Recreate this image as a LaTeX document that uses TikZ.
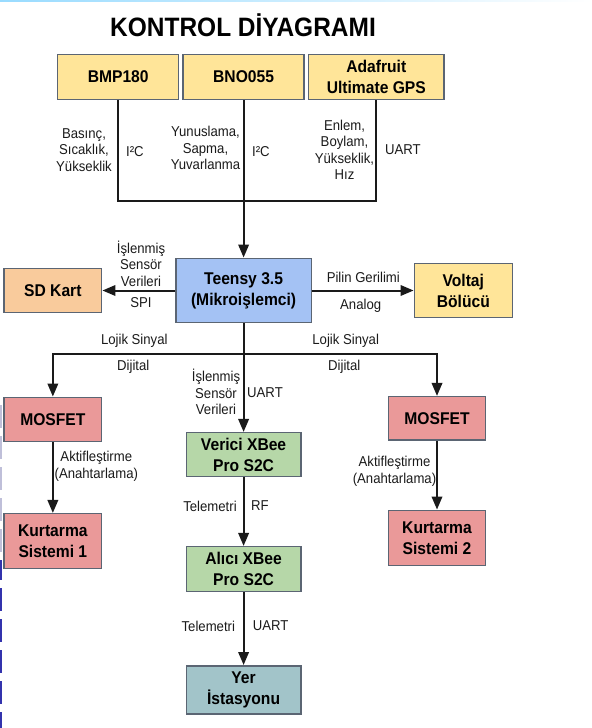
\documentclass[tikz,border=0pt]{standalone}
\usepackage{fontspec}
\setmainfont{Liberation Sans}[FakeStretch=0.92]
\usetikzlibrary{arrows.meta}
\definecolor{bord}{HTML}{5B6573}
\definecolor{cyel}{HTML}{FFE599}
\definecolor{cora}{HTML}{F9CB9C}
\definecolor{cblu}{HTML}{A4C2F4}
\definecolor{cred}{HTML}{EA9999}
\definecolor{cgrn}{HTML}{B6D7A8}
\definecolor{cteal}{HTML}{A2C4C9}
\definecolor{lnk}{HTML}{1A1A1A}
\tikzset{
  box/.style={draw=bord, line width=1.5bp, align=center, inner sep=0pt,
    font=\fontsize{17bp}{21bp}\selectfont\bfseries},
  lbl/.style={align=center, inner sep=0pt, text=lnk,
    font=\fontsize{14.3bp}{16.5bp}\selectfont},
  link/.style={draw=lnk, line width=2bp},
  arr/.style={link, -{Triangle[length=13bp,width=10.5bp]}}
}
\begin{document}
\begin{tikzpicture}[x=1bp,y=-1bp]
\useasboundingbox (0,0) rectangle (592,728);
% screenshot edge artefacts
\shade[left color=blue!35!cyan!40, right color=white] (0,0) rectangle (592,2);
\draw[color=blue!25!gray!40, line width=2bp, dash pattern=on 23bp off 8bp] (1,405) -- (1,560);
\draw[color=blue!60!black!80, line width=2bp, dash pattern=on 23bp off 8bp, dash phase=3bp] (1,560) -- (1,728);

\node[font=\fontsize{26.6bp}{30bp}\selectfont\bfseries] (title) at (243,25) {KONTROL DİYAGRAMI};

\node[box, fill=cyel, minimum width=121bp, minimum height=45bp] (bmp) at (118.2,76.8) {BMP180};
\node[box, fill=cyel, minimum width=121bp, minimum height=45bp] (bno) at (243.6,76.8) {BNO055};
\node[box, fill=cyel, minimum width=135.7bp, minimum height=45bp] (gps) at (376.3,76.8) {Adafruit\\Ultimate GPS};

\node[box, fill=cblu, minimum width=135.6bp, minimum height=64.4bp] (teensy) at (243.6,290.5) {Teensy 3.5\\(Mikroişlemci)};
\node[box, fill=cora, minimum width=97.7bp, minimum height=44.4bp] (sd) at (52.85,290.5) {SD Kart};
\node[box, fill=cyel, minimum width=98bp, minimum height=54bp] (volt) at (463.3,290.5) {Voltaj\\Bölücü};

\node[box, fill=cred, minimum width=97.7bp, minimum height=44.4bp] (mosL) at (52.85,419.5) {MOSFET};
\node[box, fill=cred, minimum width=97.4bp, minimum height=43.5bp] (mosR) at (437,418.4) {MOSFET};
\node[box, fill=cred, minimum width=97.7bp, minimum height=54.6bp] (kurL) at (52.85,541) {Kurtarma\\Sistemi 1};
\node[box, fill=cred, minimum width=97.4bp, minimum height=55bp] (kurR) at (437,537.8) {Kurtarma\\Sistemi 2};

\node[box, fill=cgrn, minimum width=114.7bp, minimum height=44bp] (tx) at (243.6,454.7) {Verici XBee\\Pro S2C};
\node[box, fill=cgrn, minimum width=114.7bp, minimum height=45bp] (rx) at (243.6,569.2) {Alıcı XBee\\Pro S2C};
\node[box, fill=cteal, minimum width=114.7bp, minimum height=48.3bp] (yer) at (243.6,689.9) {Yer\\İstasyonu};

% sensor bus
\coordinate (bus) at (243.6,201);
\draw[link] (bmp.south) -- (bmp.south |- bus) -- (gps.south |- bus) -- (gps.south);
\draw[arr] (bno.south) -- (teensy.north);
% teensy side links
\draw[arr] (teensy.west) -- (sd.east);
\draw[arr] (teensy.east) -- (volt.west);
% lower links
\coordinate (split) at (243.6,354.3);
\draw[arr] (teensy.south) -- (tx.north);
\draw[arr] (split) -| (mosL.north);
\draw[arr] (split) -| (mosR.north);
\draw[arr] (mosL.south) -- (kurL.north);
\draw[arr] (mosR.south) -- (kurR.north);
\draw[arr] (tx.south) -- (rx.north);
\draw[arr] (rx.south) -- (yer.north);

% labels
\node[lbl] (l1) at (84,149.7) {Basınç,\\Sıcaklık,\\Yükseklik};
\node[lbl, anchor=west] (l2) at (126,152) {I²C};
\node[lbl] (l3) at (205.5,148.3) {Yunuslama,\\Sapma,\\Yuvarlanma};
\node[lbl, anchor=west] (l4) at (252,152) {I²C};
\node[lbl] (l5) at (344.5,149.7) {Enlem,\\Boylam,\\Yükseklik,\\Hız};
\node[lbl, anchor=west] (l6) at (385,150) {UART};
\node[lbl] (l7) at (141,263.7) {İşlenmiş\\Sensör\\Verileri};
\node[lbl] (l8) at (141,302.7) {SPI};
\node[lbl] (l9) at (363.3,277.3) {Pilin Gerilimi};
\node[lbl] (l10) at (360.7,305.7) {Analog};
\node[lbl] (l11) at (134.3,341) {Lojik Sinyal};
\node[lbl] (l12) at (133.3,366.7) {Dijital};
\node[lbl] (l13) at (345.7,341) {Lojik Sinyal};
\node[lbl] (l14) at (344.3,366.7) {Dijital};
\node[lbl] (l15) at (216,392.1) {İşlenmiş\\Sensör\\Verileri};
\node[lbl] (l16) at (265,392.3) {UART};
\node[lbl] (l17) at (96.3,466.2) {Aktifleştirme\\(Anahtarlama)};
\node[lbl] (l18) at (394.5,471.3) {Aktifleştirme\\(Anahtarlama)};
\node[lbl] (l19) at (210,506) {Telemetri};
\node[lbl] (l20) at (260,506) {RF};
\node[lbl] (l21) at (208.3,626) {Telemetri};
\node[lbl] (l22) at (270.7,626) {UART};
\end{tikzpicture}
\end{document}
